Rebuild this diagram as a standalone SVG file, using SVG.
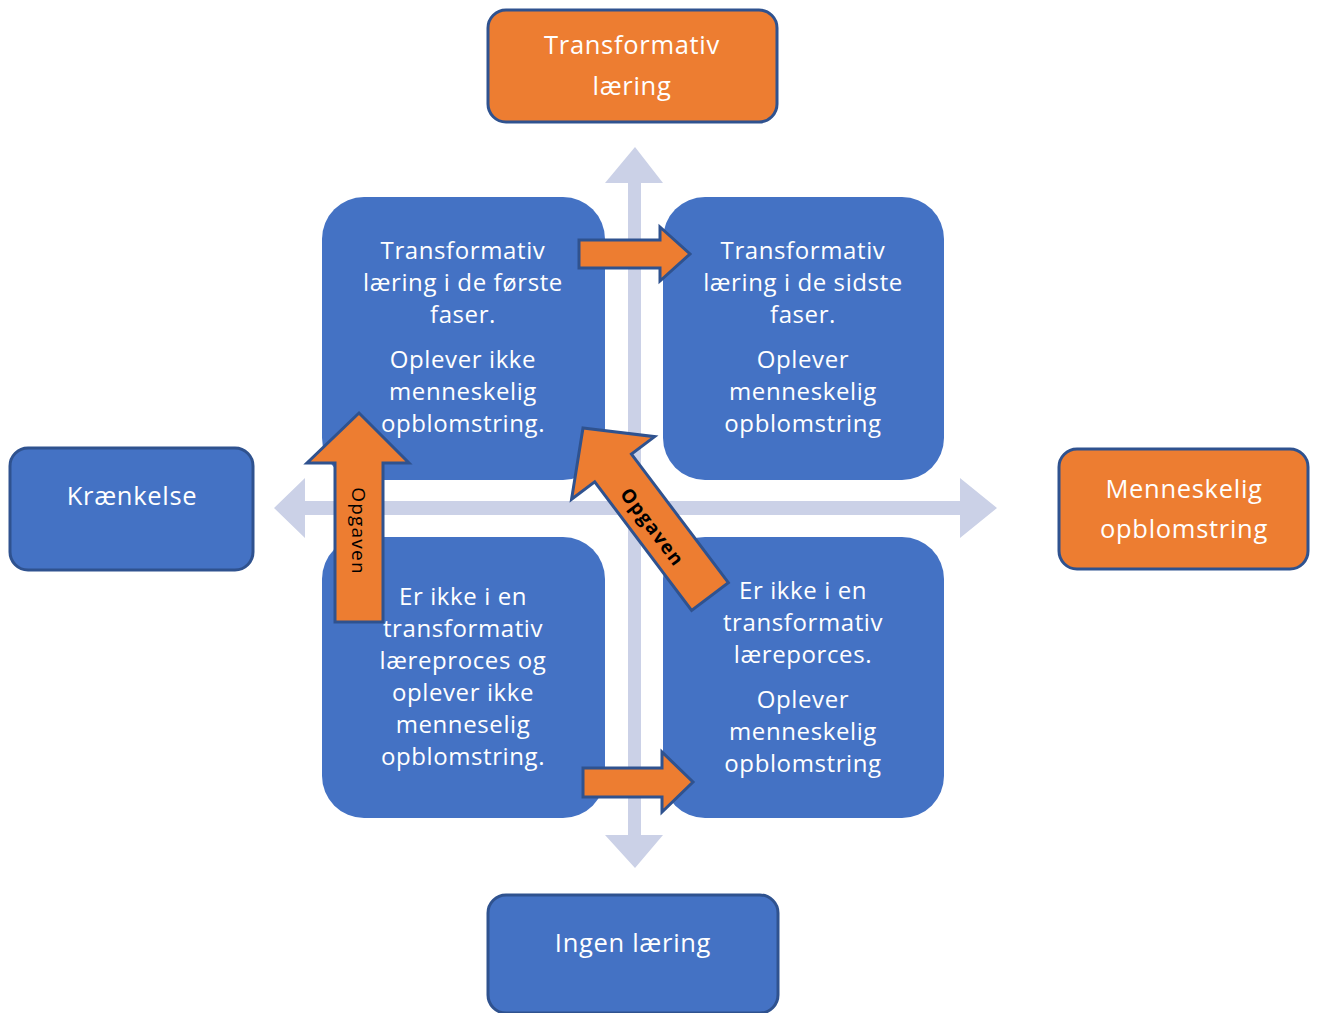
<svg xmlns="http://www.w3.org/2000/svg" width="1318" height="1013" viewBox="0 0 1318 1013">
<style>
.bg{fill:#ffffff}
.outer-blue{fill:#4472C4;stroke:#2F528F;stroke-width:3}
.outer-orange{fill:#ED7D31;stroke:#2F528F;stroke-width:3}
.quad{fill:#4472C4}
.axis{fill:#CBD1E7}
.oarrow{fill:#ED7D31;stroke:#2F528F;stroke-width:3;stroke-linejoin:miter}
.t{font-family:"Open Sans","Noto Sans",sans-serif;font-size:24px;fill:#ffffff;text-anchor:middle;letter-spacing:0.6px}
.to{font-family:"Open Sans","Noto Sans",sans-serif;font-size:25.5px;fill:#ffffff;text-anchor:middle;letter-spacing:0.7px}
.lbl{font-family:"Open Sans","Noto Sans",sans-serif;font-size:19px;fill:#000000;text-anchor:middle;letter-spacing:1.2px}
</style>
<rect class="bg" x="0" y="0" width="1318" height="1013"/>

<g id="axes">
  <polygon class="axis" points="628,183 605,183 635,147 663,183 641,183 641,835 663,835 635,868 605,835 628,835"/>
  <polygon class="axis" points="305,501 305,478 274,508 305,538 305,515 960,515 960,538 997,508 960,478 960,501"/>
</g>

<g id="q-top-left">
  <rect class="quad" x="322" y="197" width="283" height="283" rx="42"/>
  <text class="t" x="463" y="259">Transformativ</text>
  <text class="t" x="463" y="291">læring i de første</text>
  <text class="t" x="463" y="323">faser.</text>
  <text class="t" x="463" y="368">Oplever ikke</text>
  <text class="t" x="463" y="400">menneskelig</text>
  <text class="t" x="463" y="432">opblomstring.</text>
</g>
<g id="q-top-right">
  <rect class="quad" x="663" y="197" width="281" height="283" rx="42"/>
  <text class="t" x="803" y="259">Transformativ</text>
  <text class="t" x="803" y="291">læring i de sidste</text>
  <text class="t" x="803" y="323">faser.</text>
  <text class="t" x="803" y="368">Oplever</text>
  <text class="t" x="803" y="400">menneskelig</text>
  <text class="t" x="803" y="432">opblomstring</text>
</g>
<g id="q-bottom-left">
  <rect class="quad" x="322" y="537" width="283" height="281" rx="42"/>
  <text class="t" x="463" y="605">Er ikke i en</text>
  <text class="t" x="463" y="637">transformativ</text>
  <text class="t" x="463" y="669">læreproces og</text>
  <text class="t" x="463" y="701">oplever ikke</text>
  <text class="t" x="463" y="733">menneselig</text>
  <text class="t" x="463" y="765">opblomstring.</text>
</g>
<g id="q-bottom-right">
  <rect class="quad" x="663" y="537" width="281" height="281" rx="42"/>
  <text class="t" x="803" y="599">Er ikke i en</text>
  <text class="t" x="803" y="631">transformativ</text>
  <text class="t" x="803" y="663">læreporces.</text>
  <text class="t" x="803" y="708">Oplever</text>
  <text class="t" x="803" y="740">menneskelig</text>
  <text class="t" x="803" y="772">opblomstring</text>
</g>

<g id="n-transformativ-laering">
  <rect class="outer-orange" x="488" y="10" width="289" height="112" rx="18"/>
  <text class="to" x="632" y="54">Transformativ</text>
  <text class="to" x="632" y="95">læring</text>
</g>
<g id="n-kraenkelse">
  <rect class="outer-blue" x="10" y="448" width="243" height="122" rx="18"/>
  <text class="to" x="132" y="505">Krænkelse</text>
</g>
<g id="n-menneskelig">
  <rect class="outer-orange" x="1059" y="449" width="249" height="120" rx="18"/>
  <text class="to" x="1184" y="498">Menneskelig</text>
  <text class="to" x="1184" y="538">opblomstring</text>
</g>
<g id="n-ingen-laering">
  <rect class="outer-blue" x="488" y="895" width="290" height="118" rx="18"/>
  <text class="to" x="633" y="952">Ingen læring</text>
</g>

<g id="connectors">
  <polygon class="oarrow" points="579,240 660,240 660,227 690,254 660,281 660,268 579,268"/>
  <polygon class="oarrow" points="583,768 662,768 662,752 693,782 662,812 662,797 583,797"/>
  <polygon class="oarrow" points="335,622 335,463 307,463 359,413 409,463 383,463 383,622"/>
  <text class="lbl" transform="translate(352,531) rotate(90)">Opgaven</text>
  <polygon class="oarrow" transform="translate(583,428) rotate(-37)" points="0,0 52,50 23,50 23,211 -23,211 -23,50 -52,50"/>
  <text class="lbl" style="font-weight:bold" transform="translate(647,531) rotate(53)">Opgaven</text>
</g>
</svg>
